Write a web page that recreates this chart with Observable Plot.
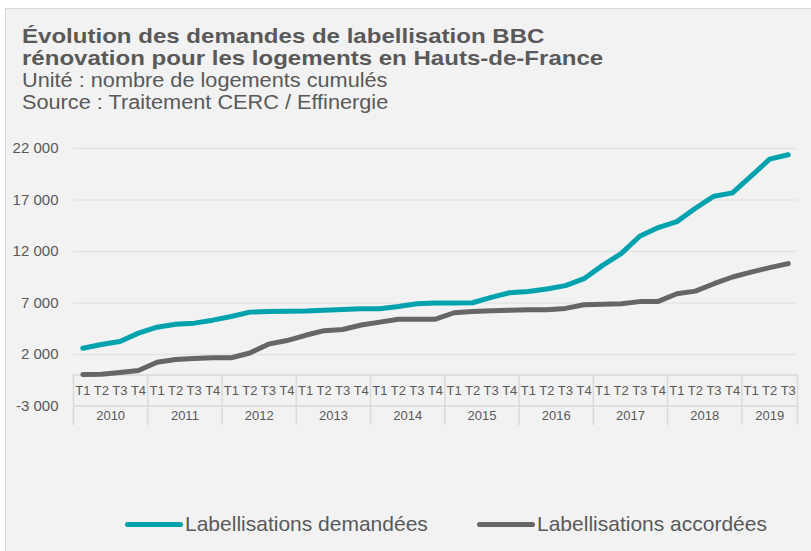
<!DOCTYPE html>
<html><head><meta charset="utf-8">
<script src="https://cdn.jsdelivr.net/npm/d3@7"></script>
<script src="https://cdn.jsdelivr.net/npm/@observablehq/plot@0.6"></script>
<style>
html,body{margin:0;padding:0;background:#fff;width:811px;height:551px;overflow:hidden;font-family:"Liberation Sans",Arial,sans-serif;}
#panel{position:absolute;left:5px;top:8px;width:830px;height:570px;background:#f2f2f2;border:1px solid #d9d9d9;box-sizing:border-box;}
.tl{position:absolute;left:22px;color:#595959;font-weight:bold;font-size:21px;line-height:22px;height:22px;white-space:nowrap;transform:scaleX(1.145);transform-origin:0 50%;}
.sl{position:absolute;left:22px;color:#595959;font-size:20px;line-height:22px;height:22px;white-space:nowrap;transform:scaleX(1.085);transform-origin:0 50%;}
#chart{position:absolute;left:0;top:0;}
#legend{position:absolute;left:0;top:510px;width:811px;height:28px;}
.item{position:absolute;top:0;display:flex;align-items:center;height:28px;color:#595959;font-size:21px;white-space:nowrap;}
.sw{flex:none;width:58px;height:5px;border-radius:3px;margin-right:2px;}
</style></head>
<body>
<div id="panel"></div>
<div class="tl" style="top:25px">Évolution des demandes de labellisation BBC</div>
<div class="tl" style="top:47px">rénovation pour les logements en Hauts-de-France</div>
<div class="sl" style="top:69px">Unité : nombre de logements cumulés</div>
<div class="sl" style="top:91px">Source : Traitement CERC / Effinergie</div>
<div id="chart"></div>
<div id="legend"></div>
<script>
const series = ["Labellisations demandées", "Labellisations accordées"];
const colors = ["#00a3ad", "#666666"];
const years = ["2010","2011","2012","2013","2014","2015","2016","2017","2018","2019"];
const quartersPerYear = [4,4,4,4,4,4,4,4,4,3];
const quarterNames = ["T1","T2","T3","T4"];
const demandees = [2600,2970,3260,4070, 4650,4940,5040,5330, 5690,6110,6180,6200, 6210,6300,6370,6440, 6440,6660,6930,6990, 7000,7020,7540,8000, 8120,8350,8680,9360, 10650,11790,13480,14320, 14900,16200,17370,17690, 19310,20970,21390];
const accordees = [50,80,240,440, 1250,1510,1600,1670, 1680,2140,3000,3350, 3860,4310,4420,4860, 5140,5420,5420,5430, 6050,6180,6250,6300, 6330,6330,6470,6820, 6870,6920,7130,7150, 7900,8150,8870,9520, 10000,10430,10820];
const yTicks = [-3000,2000,7000,12000,17000,22000];

const quarters = quartersPerYear.flatMap(c => quarterNames.slice(0, c));
const n = quarters.length;
const idx = d3.range(n);
const starts = quartersPerYear.map((c, k) => d3.sum(quartersPerYear.slice(0, k)));
const boundaries = [-0.5, ...starts.map((s, k) => s + quartersPerYear[k] - 0.5)];
const yearRows = years.map((y, k) => ({y, c: starts[k] + (quartersPerYear[k] - 1) / 2}));
const rows = idx.flatMap(i => [{i, v: demandees[i], s: series[0]}, {i, v: accordees[i], s: series[1]}]);
const fmt = d3.formatLocale({decimal: ",", thousands: " ", grouping: [3], currency: ["", " €"], minus: "-"}).format(",");

const chart = Plot.plot({
  width: 811, height: 551,
  marginLeft: 73, marginRight: 14, marginTop: 148, marginBottom: 126,
  style: {background: "transparent", fontFamily: "'Liberation Sans', Arial, sans-serif", fontSize: "15px", color: "#595959"},
  x: {type: "linear", domain: [-0.5, n - 0.5], axis: null},
  y: {domain: [-4900, 22000], ticks: yTicks, tickFormat: fmt, tickSize: 0, tickPadding: 15, label: null},
  color: {domain: series, range: colors},
  marks: [
    Plot.ruleY(yTicks.filter(t => t > 0), {stroke: "#e4e4e4", strokeWidth: 1.5}),
    Plot.ruleY([0, -3000], {stroke: "#d9d9d9", strokeWidth: 1.5}),
    Plot.ruleX(boundaries, {y1: 0, y2: -4900, stroke: "#d9d9d9", strokeWidth: 1.5}),
    Plot.text(idx, {x: d => d, y: () => -1500, text: i => quarters[i], fontSize: 13, fill: "#595959"}),
    Plot.text(yearRows, {x: "c", y: () => -3950, text: "y", fontSize: 13, fill: "#595959"}),
    Plot.line(rows, {x: "i", y: "v", z: "s", stroke: "s", strokeWidth: 5, strokeLinecap: "round", strokeLinejoin: "round"})
  ]
});
document.getElementById("chart").appendChild(chart);

const legend = document.getElementById("legend");
const lx = [125, 477];
series.forEach((s, k) => {
  const it = document.createElement("div");
  it.className = "item";
  it.style.left = lx[k] + "px";
  const sw = document.createElement("div");
  sw.className = "sw";
  sw.style.background = colors[k];
  it.appendChild(sw);
  it.appendChild(document.createTextNode(s));
  legend.appendChild(it);
});
</script>
</body></html>
